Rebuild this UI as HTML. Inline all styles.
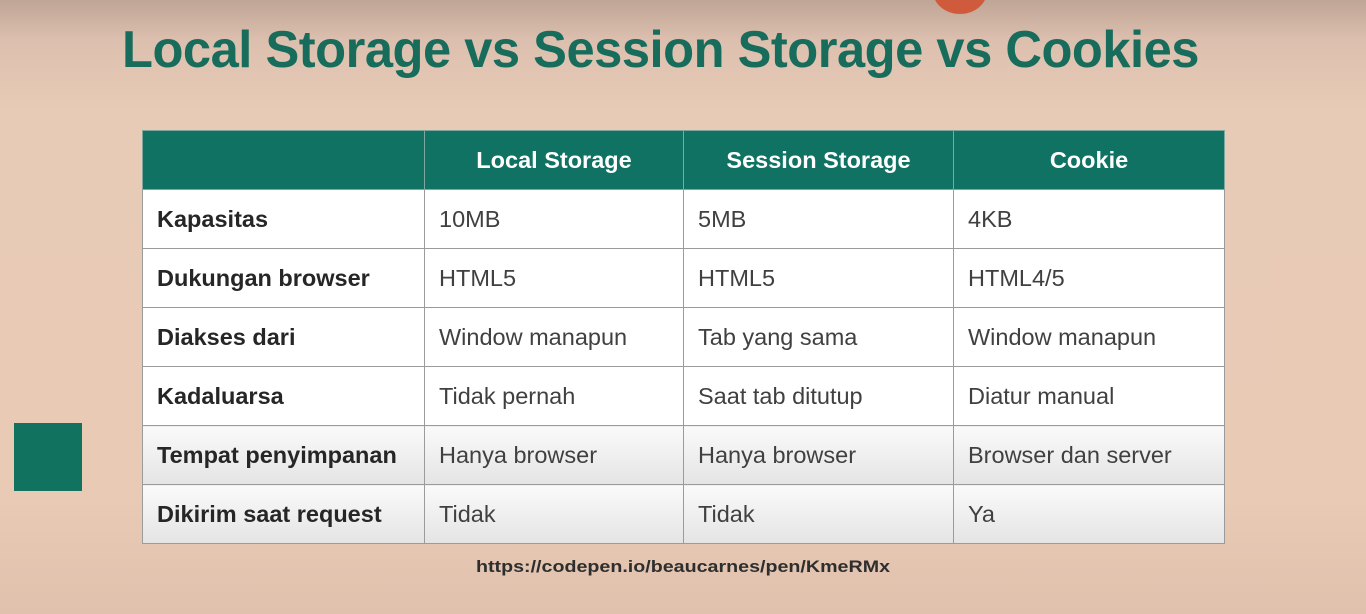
<!DOCTYPE html>
<html><head><meta charset="utf-8"><style>
html,body{margin:0;padding:0}
body{width:1366px;height:614px;overflow:hidden;position:relative;font-family:"Liberation Sans",sans-serif;
background:linear-gradient(180deg,#bfa596 0px,#dcbfae 40px,#e8cbb6 110px,#e8cab5 500px,#dfc1ad 614px);}
.circle{position:absolute;left:933px;top:-32px;width:54px;height:46px;border-radius:50%;background:#d05a3c}
h1{position:absolute;left:122px;top:20px;margin:0;font-size:52px;font-weight:bold;color:#176c5b;letter-spacing:-0.5px;white-space:nowrap;transform-origin:left top}
.sq{position:absolute;left:14px;top:423px;width:68px;height:68px;background:#127260}
table{position:absolute;left:142px;top:130px;border-collapse:collapse;width:1082px;table-layout:fixed}
td,th{border:1.5px solid #9b9b9b;height:58px;padding:0 0 0 14px;font-size:23.5px;text-align:left;color:#404040;white-space:nowrap;vertical-align:middle}
th{background:#0f7262;color:#fff;text-align:center;padding:0;border-color:#7fa79d}
td.l{font-weight:bold;color:#262626}
tr.g td{background:linear-gradient(180deg,#fafafa,#e4e4e4)}
tr.w td{background:#fff}
.url{position:absolute;left:476px;top:557px;font-size:17px;font-weight:bold;color:#2e2e2e;transform-origin:left top}
</style></head><body>
<div class="circle"></div>
<h1 id="t">Local Storage vs Session Storage vs Cookies</h1>
<div class="sq"></div>
<table>
<colgroup><col style="width:282px"><col style="width:259px"><col style="width:270px"><col style="width:271px"></colgroup>
<tr><th></th><th>Local Storage</th><th>Session Storage</th><th>Cookie</th></tr>
<tr class="w"><td class="l">Kapasitas</td><td>10MB</td><td>5MB</td><td>4KB</td></tr>
<tr class="w"><td class="l">Dukungan browser</td><td>HTML5</td><td>HTML5</td><td>HTML4/5</td></tr>
<tr class="w"><td class="l">Diakses dari</td><td>Window manapun</td><td>Tab yang sama</td><td>Window manapun</td></tr>
<tr class="w"><td class="l">Kadaluarsa</td><td>Tidak pernah</td><td>Saat tab ditutup</td><td>Diatur manual</td></tr>
<tr class="g"><td class="l">Tempat penyimpanan</td><td>Hanya browser</td><td>Hanya browser</td><td>Browser dan server</td></tr>
<tr class="g"><td class="l">Dikirim saat request</td><td>Tidak</td><td>Tidak</td><td>Ya</td></tr>
</table>
<div class="url" id="u">https://codepen.io/beaucarnes/pen/KmeRMx</div>
<script>
var t=document.getElementById('t');var w=t.getBoundingClientRect().width;t.style.transform='scaleX('+(1077/w)+')';
var u=document.getElementById('u');var uw=u.getBoundingClientRect().width;u.style.transform='scaleX('+(414/uw)+')';
</script>
</body></html>
